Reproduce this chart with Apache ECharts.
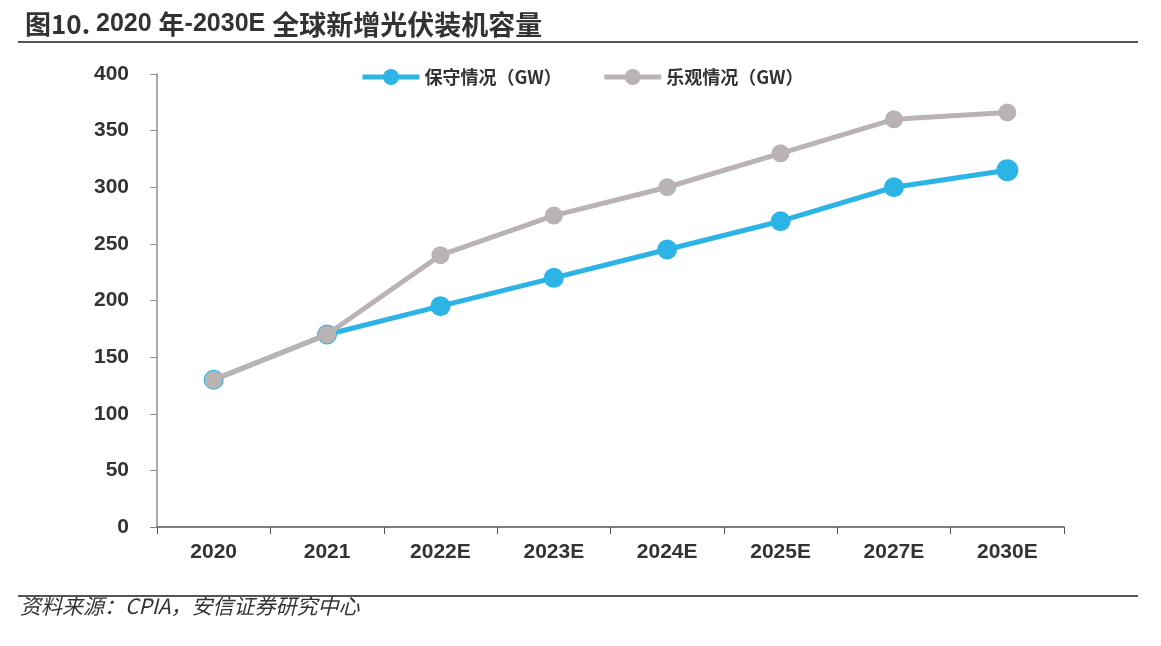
<!DOCTYPE html>
<html>
<head>
<meta charset="utf-8">
<script src="https://cdn.jsdelivr.net/npm/echarts@6/dist/echarts.min.js"></script>
<style>
  html, body { margin: 0; padding: 0; background: #fff; }
  #chart { width: 1161px; height: 646px; }
</style>
</head>
<body>
<div id="chart"></div>
<script>
// 数据
const categories = ['2020', '2021', '2022E', '2023E', '2024E', '2025E', '2027E', '2030E'];
const conservative = [130, 170, 195, 220, 245, 270, 300, 315];
const optimistic = [130, 170, 240, 275, 300, 330, 360, 366];
const seriesNames = ['保守情况（GW）', '乐观情况（GW）'];

const blue = '#2cb4e6';
const grey = '#bab3b3';
const textColor = '#333333';

const myChart = echarts.init(document.getElementById('chart'));

myChart.setOption({
    backgroundColor: '#ffffff',
    animation: false,
    title: {
        text: '{a|图10. }{b|2020 }{a|年}{b|-2030E }{c|全球新增光伏装机容量}',
        left: 20,
        top: 6,
        textStyle: {
            rich: {
                a: { fontFamily: 'Noto Sans CJK SC', fontSize: 26, fontWeight: 'bold', color: textColor },
                b: { fontFamily: 'Liberation Sans', fontSize: 25, fontWeight: 'bold', color: textColor },
                c: { fontFamily: 'Noto Sans CJK SC', fontSize: 27, fontWeight: 'bold', color: textColor }
            }
        }
    },
    legend: {
        top: 63,
        left: 355,
        itemWidth: 57,
        itemHeight: 20,
        itemGap: 40,
        lineStyle: { width: 5 },
        textStyle: {
            fontFamily: 'Noto Sans CJK SC',
            fontSize: 18,
            fontWeight: 'bold',
            color: textColor
        },
        data: seriesNames
    },
    grid: {
        left: 157,
        right: 97,
        top: 74,
        bottom: 119
    },
    xAxis: {
        type: 'category',
        data: categories,
        boundaryGap: true,
        axisLine: { lineStyle: { color: '#555', width: 1.5 } },
        axisTick: { show: true, length: 7, lineStyle: { color: '#555' } },
        axisLabel: {
            margin: 15,
            fontFamily: 'Liberation Sans',
            fontSize: 21,
            fontWeight: 'bold',
            color: textColor
        }
    },
    yAxis: {
        type: 'value',
        min: 0,
        max: 400,
        interval: 50,
        axisLine: { show: true, lineStyle: { color: '#8c8c8c', width: 1.5 } },
        axisTick: { show: true, length: 7, lineStyle: { color: '#8c8c8c' } },
        splitLine: { show: false },
        axisLabel: {
            margin: 28,
            fontFamily: 'Liberation Sans',
            fontSize: 21,
            fontWeight: 'bold',
            color: textColor
        }
    },
    series: [
        {
            name: seriesNames[0],
            type: 'line',
            data: conservative,
            symbol: 'circle',
            symbolSize: function(val, params) {
                return params.dataIndex === categories.length - 1 ? 22 : 20;
            },
            lineStyle: { color: blue, width: 5 },
            itemStyle: { color: blue },
            z: 2
        },
        {
            name: seriesNames[1],
            type: 'line',
            data: optimistic,
            symbol: 'circle',
            symbolSize: 18,
            lineStyle: { color: grey, width: 5 },
            itemStyle: { color: grey },
            z: 3
        }
    ],
    graphic: [
        {
            type: 'line',
            shape: { x1: 18, y1: 42, x2: 1138, y2: 42 },
            style: { stroke: '#555', lineWidth: 2 }
        },
        {
            type: 'line',
            shape: { x1: 18, y1: 596, x2: 1138, y2: 596 },
            style: { stroke: '#555', lineWidth: 2 }
        },
        {
            type: 'text',
            left: 20,
            top: 596,
            style: {
                text: '资料来源：CPIA，安信证券研究中心',
                font: 'italic 21px "Noto Sans CJK SC"',
                fill: textColor
            }
        }
    ]
});

window.addEventListener('resize', function() {
    myChart.resize();
});
</script>
</body>
</html>
